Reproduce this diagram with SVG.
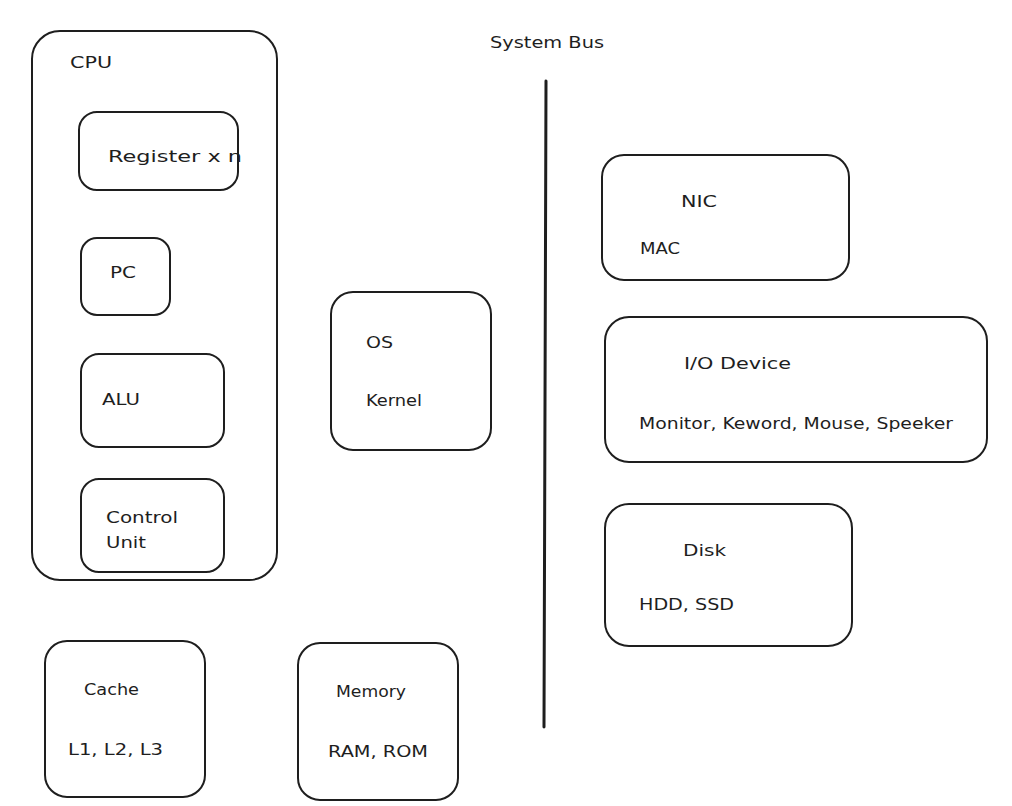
<svg xmlns="http://www.w3.org/2000/svg" width="1012" height="806" viewBox="0 0 1012 806">
<style>
.box{fill:none;stroke:#1e1e1e;stroke-width:2;stroke-linejoin:round}
.t{font-family:"DejaVu Sans","Liberation Sans",sans-serif;font-size:16px;fill:#1e1e1e}
.bus{stroke:#1e1e1e;stroke-width:3;stroke-linecap:round}
</style>
<rect x="0" y="0" width="1012" height="806" fill="#ffffff"/>
<g id="cpu">
<rect class="box" x="32" y="31" width="245" height="549" rx="28"/>
<text class="t" x="70" y="68" textLength="42" lengthAdjust="spacingAndGlyphs">CPU</text>
</g>
<g id="register">
<rect class="box" x="79" y="112" width="159" height="78" rx="18"/>
<text class="t" x="108" y="162" textLength="134" lengthAdjust="spacingAndGlyphs">Register x n</text>
</g>
<g id="pc">
<rect class="box" x="81" y="238" width="89" height="77" rx="16"/>
<text class="t" x="110" y="278" textLength="26" lengthAdjust="spacingAndGlyphs">PC</text>
</g>
<g id="alu">
<rect class="box" x="81" y="354" width="143" height="93" rx="18"/>
<text class="t" x="102" y="405" textLength="38" lengthAdjust="spacingAndGlyphs">ALU</text>
</g>
<g id="control-unit">
<rect class="box" x="81" y="479" width="143" height="93" rx="18"/>
<text class="t" x="106" y="523" textLength="72" lengthAdjust="spacingAndGlyphs">Control</text>
<text class="t" x="106" y="548" textLength="40" lengthAdjust="spacingAndGlyphs">Unit</text>
</g>
<g id="cache">
<rect class="box" x="45" y="641" width="160" height="156" rx="22"/>
<text class="t" x="84" y="695" textLength="55" lengthAdjust="spacingAndGlyphs">Cache</text>
<text class="t" x="68" y="755" textLength="95" lengthAdjust="spacingAndGlyphs">L1, L2, L3</text>
</g>
<g id="memory">
<rect class="box" x="298" y="643" width="160" height="157" rx="22"/>
<text class="t" x="336" y="697" textLength="70" lengthAdjust="spacingAndGlyphs">Memory</text>
<text class="t" x="328" y="757" textLength="100" lengthAdjust="spacingAndGlyphs">RAM, ROM</text>
</g>
<g id="os">
<rect class="box" x="331" y="292" width="160" height="158" rx="22"/>
<text class="t" x="366" y="348" textLength="27" lengthAdjust="spacingAndGlyphs">OS</text>
<text class="t" x="366" y="406" textLength="56" lengthAdjust="spacingAndGlyphs">Kernel</text>
</g>
<g id="system-bus">
<text class="t" x="490" y="48" textLength="114" lengthAdjust="spacingAndGlyphs">System Bus</text>
</g>
<g id="connectors">
<line class="bus" x1="546" y1="81" x2="544" y2="727"/>
</g>
<g id="nic">
<rect class="box" x="602" y="155" width="247" height="125" rx="22"/>
<text class="t" x="681" y="207" textLength="36" lengthAdjust="spacingAndGlyphs">NIC</text>
<text class="t" x="640" y="254" textLength="40" lengthAdjust="spacingAndGlyphs">MAC</text>
</g>
<g id="io-device">
<rect class="box" x="605" y="317" width="382" height="145" rx="24"/>
<text class="t" x="684" y="369" textLength="107" lengthAdjust="spacingAndGlyphs">I/O Device</text>
<text class="t" x="639" y="429" textLength="314" lengthAdjust="spacingAndGlyphs">Monitor, Keword, Mouse, Speeker</text>
</g>
<g id="disk">
<rect class="box" x="605" y="504" width="247" height="142" rx="24"/>
<text class="t" x="683" y="556" textLength="43" lengthAdjust="spacingAndGlyphs">Disk</text>
<text class="t" x="639" y="610" textLength="95" lengthAdjust="spacingAndGlyphs">HDD, SSD</text>
</g>
</svg>
